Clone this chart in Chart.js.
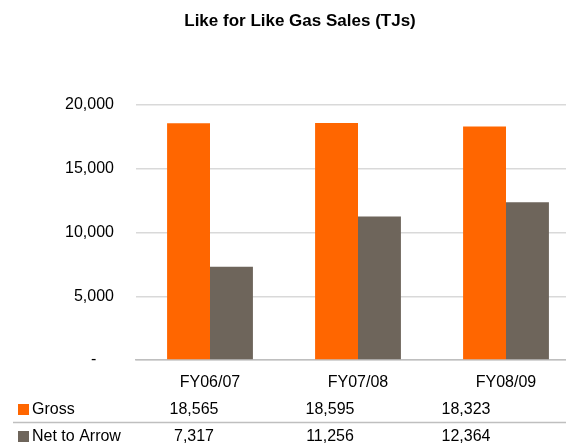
<!DOCTYPE html>
<html>
<head>
<meta charset="utf-8">
<script src="https://cdn.jsdelivr.net/npm/chart.js@4/dist/chart.umd.min.js"></script>
<style>
  html,body{margin:0;padding:0;background:#fff;overflow:hidden;}
  canvas{display:block;}
</style>
</head>
<body>
<!-- plot area runs past the right edge in the original, so the canvas is a bit wider than the window -->
<canvas id="c" width="580" height="446"></canvas>
<script>
  const categories = ['FY06/07', 'FY07/08', 'FY08/09'];
  const grossValues = [18565, 18595, 18323];
  const netValues = [7317, 11256, 12364];
  const seriesNames = ['Gross', 'Net to Arrow'];
  const seriesColors = ['#FF6600', '#6E655B'];
  const yTicks = [0, 5000, 10000, 15000, 20000];
  const chartTitle = 'Like for Like Gas Sales (TJs)';

  const FONT = '"Liberation Sans", Arial, sans-serif';
  const fmt = v => v.toLocaleString('en-US');

  // title + data table below the x axis
  const extras = {
    id: 'extras',
    afterDraw(chart){
      const ctx = chart.ctx;
      ctx.save();
      ctx.fillStyle = '#000';
      ctx.font = 'bold 17px ' + FONT;
      ctx.textAlign = 'center';
      ctx.textBaseline = 'middle';
      ctx.fillText(chartTitle, 300, 21);

      const rows = [grossValues, netValues];
      const rowY = [410, 437];
      const colX = [194, 330, 466];
      ctx.font = '16px ' + FONT;
      rows.forEach((vals, r)=>{
        const y = rowY[r];
        ctx.fillStyle = seriesColors[r];
        ctx.fillRect(18, y - 6, 11, 11);
        ctx.fillStyle = '#000';
        ctx.textAlign = 'left';
        ctx.fillText(seriesNames[r], 32, y);
        ctx.textAlign = 'center';
        vals.forEach((v, i)=> ctx.fillText(fmt(v), colX[i], y));
      });
      ctx.strokeStyle = '#BFBFBF';
      ctx.lineWidth = 1.5;
      ctx.beginPath(); ctx.moveTo(13, 422.5); ctx.lineTo(580, 422.5); ctx.stroke();
      ctx.restore();
    }
  };

  new Chart(document.getElementById('c'), {
    type: 'bar',
    data: {
      labels: categories,
      datasets: [
        { label: seriesNames[0], data: grossValues, backgroundColor: seriesColors[0] },
        { label: seriesNames[1], data: netValues, backgroundColor: seriesColors[1] }
      ]
    },
    options: {
      responsive: false,
      animation: false,
      layout: { padding: { top: 105, bottom: 56, right: 0, left: 0 } },
      datasets: { bar: { barPercentage: 1, categoryPercentage: 0.58 } },
      plugins: {
        legend: { display: false },
        tooltip: { enabled: false },
        title: { display: false }
      },
      scales: {
        x: {
          grid: { display: false },
          border: { color: '#BFBFBF', width: 1.5 },
          ticks: { color: '#000', font: { family: FONT, size: 16 }, padding: 5 },
          afterFit(s){ s.height = 30; }
        },
        y: {
          min: 0, max: 20000,
          afterBuildTicks(s){ s.ticks = yTicks.map(v=>({value:v})); },
          grid: { color: '#D9D9D9', lineWidth: 1.5, drawTicks: false },
          border: { display: false },
          ticks: {
            color: '#000', font: { family: FONT, size: 16 }, padding: 22,
            callback: v => v === 0 ? '-    ' : fmt(v)
          },
          afterFit(s){ s.width = 136; }
        }
      }
    },
    plugins: [extras]
  });
</script>
</body>
</html>
